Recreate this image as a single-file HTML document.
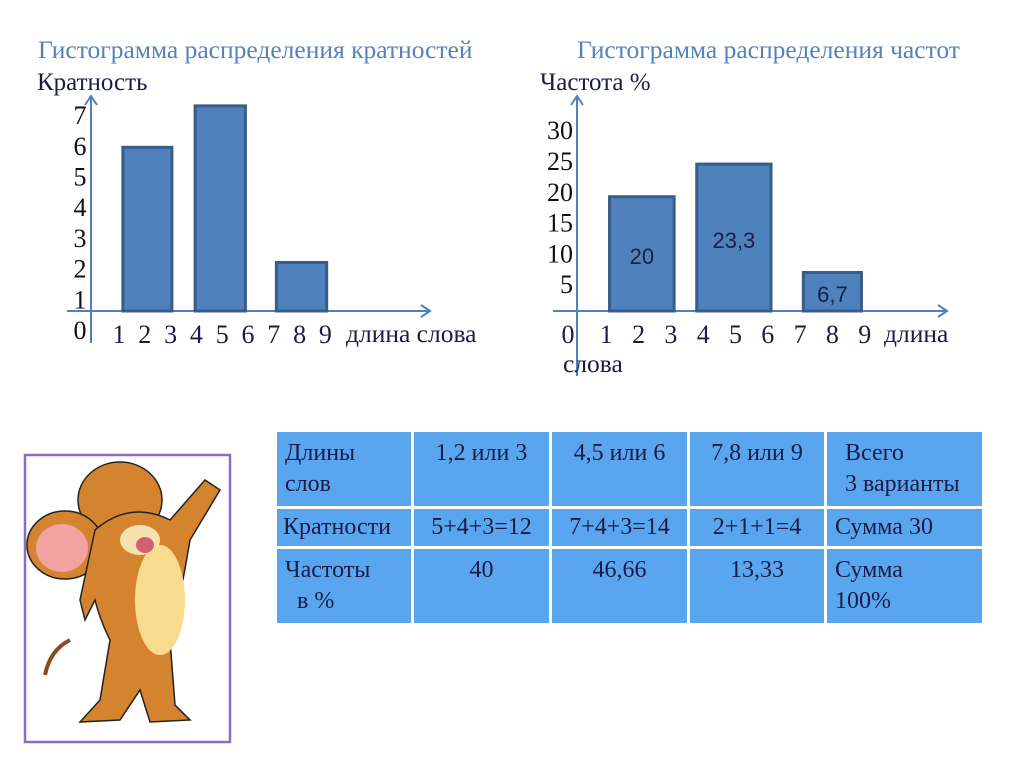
<!DOCTYPE html>
<html><head><meta charset="utf-8">
<style>
body{margin:0;width:1024px;height:767px;background:#fff;overflow:hidden;font-family:"Liberation Serif",serif;}
svg{position:absolute;left:0;top:0}
table{position:absolute;left:274px;top:429px;width:711px;table-layout:fixed;border-collapse:separate;border-spacing:3px;font-family:"Liberation Serif",serif;font-size:24px;color:#1b1b4a;}
td{background:#59a6ee;vertical-align:top;padding:6px 8px;line-height:31px;white-space:nowrap;overflow:visible;}
</style></head><body>
<svg width="1024" height="767" id="chart" font-family="Liberation Serif, serif">
<text x="38" y="58" font-size="25.5" fill="#5582bb">Гистограмма распределения кратностей</text>
<text x="37" y="90" font-size="25" fill="#1b1b4a">Кратность</text>
<text x="577" y="58" font-size="25.5" fill="#5582bb">Гистограмма распределения частот</text>
<text x="540" y="90" font-size="25" fill="#1b1b4a">Частота %</text>
<g id="left"></g>
<g id="right"></g>
<g>
<rect x="25" y="455" width="205" height="287" fill="#fff" stroke="#8a70b8" stroke-width="2.5"/>
<path d="M70 640 Q50 650 45 675" stroke="#8a4a1a" stroke-width="4" fill="none"/>
<ellipse cx="120" cy="500" rx="42" ry="38" fill="#d4842f" stroke="#222" stroke-width="1.5"/>
<ellipse cx="65" cy="545" rx="38" ry="34" fill="#d4842f" stroke="#222" stroke-width="1.5"/>
<ellipse cx="62" cy="548" rx="26" ry="24" fill="#f2a2a0"/>
<path d="M95 530 Q130 500 170 520 L205 480 L220 490 L190 540 Q180 600 170 640 L175 705 L190 720 L150 722 L140 690 L120 720 L80 722 L100 700 L110 640 Q100 620 95 600 L85 620 L80 600 Z" fill="#d4842f" stroke="#222" stroke-width="1.5"/>
<ellipse cx="160" cy="600" rx="25" ry="55" fill="#f8db8f"/>
<ellipse cx="140" cy="540" rx="20" ry="15" fill="#f5e0b0"/>
<ellipse cx="145" cy="545" rx="9" ry="8" fill="#d26070"/>
</g>
</svg>
<table>
<colgroup><col style="width:134px"><col style="width:135px"><col style="width:135px"><col style="width:134px"><col style="width:155px"></colgroup>
<tr style="height:64px"><td>Длины<br>слов</td><td style="text-align:center">1,2 или 3</td><td style="text-align:center">4,5 или 6</td><td style="text-align:center">7,8 или 9</td><td style="padding-left:18px">Всего<br>3 варианты</td></tr>
<tr style="height:34px"><td style="padding:3px 6px">Кратности</td><td style="text-align:center;padding:3px 0">5+4+3=12</td><td style="text-align:center;padding:3px 0">7+4+3=14</td><td style="text-align:center;padding:3px 0">2+1+1=4</td><td style="padding:3px 8px">Сумма 30</td></tr>
<tr style="height:63px"><td>Частоты<br>&nbsp;&nbsp;в %</td><td style="text-align:center">40</td><td style="text-align:center">46,66</td><td style="text-align:center">13,33</td><td>Сумма<br>100%</td></tr>
</table>
<script>
const leftTicks=[0,1,2,3,4,5,6,7];
const leftXTicks=[1,2,3,4,5,6,7,8,9];
const leftStarts=[1.15,3.95,7.1];
const leftEnds=[3.05,5.9,9.05];
const leftValues=[5.95,7.3,2.2];
const rightTicks=[5,10,15,20,25,30];
const rightXTicks=[0,1,2,3,4,5,6,7,8,9];
const rightStarts=[1.1,3.8,7.1];
const rightEnds=[3.1,6.1,8.9];
const rightValues=[19.2,24.5,6.9];
const rightLabels=["20","23,3","6,7"];
const NS="http://www.w3.org/2000/svg";
function mk(p,tag,a,txt){const e=document.createElementNS(NS,tag);for(const k in a)e.setAttribute(k,a[k]);if(txt!==undefined)e.textContent=txt;p.appendChild(e);return e;}
const AX="#4f81bd";
const L=document.getElementById('left');
const ly=v=>330-30.7*v, lx=v=>119+25.8*(v-1), LAXIS=311;
let e;
e=mk(L,'line',{x1:67,y1:LAXIS,x2:430,y2:LAXIS,stroke:AX,'stroke-width':2});

mk(L,'path',{d:`M421 ${LAXIS-6} L430 ${LAXIS} L421 ${LAXIS+6}`,stroke:AX,'stroke-width':2,fill:'none'});
e=mk(L,'line',{x1:91,y1:96,x2:91,y2:343,stroke:AX,'stroke-width':2});

mk(L,'path',{d:'M85 105 L91 96 L97 105',stroke:AX,'stroke-width':2,fill:'none'});
leftTicks.forEach(v=>{e=mk(L,'text',{x:80,y:ly(v)+9,'font-size':26,'text-anchor':'middle',fill:'#111'},String(v));
});
leftXTicks.forEach(v=>{e=mk(L,'text',{x:lx(v),y:343,'font-size':26,'text-anchor':'middle',fill:'#1b1b4a'},String(v));
});
e=mk(L,'text',{x:346,y:342,'font-size':25.5,fill:'#1b1b4a'},'длина слова');

leftValues.forEach((v,i)=>{const x0=lx(leftStarts[i]),x1=lx(leftEnds[i]),t=ly(v);
e=mk(L,'rect',{x:x0,y:t,width:x1-x0,height:LAXIS-t,fill:'#4f81bd',stroke:'#385d8a','stroke-width':3});
});
const R=document.getElementById('right');
const ry=v=>315-6.16*v, rx=v=>574+32.3*v, RAXIS=311;
e=mk(R,'line',{x1:553,y1:RAXIS,x2:947,y2:RAXIS,stroke:AX,'stroke-width':2});

mk(R,'path',{d:`M938 ${RAXIS-6} L947 ${RAXIS} L938 ${RAXIS+6}`,stroke:AX,'stroke-width':2,fill:'none'});
e=mk(R,'line',{x1:577,y1:96,x2:577,y2:376,stroke:AX,'stroke-width':2});

mk(R,'path',{d:'M571 105 L577 96 L583 105',stroke:AX,'stroke-width':2,fill:'none'});
rightTicks.forEach(v=>{e=mk(R,'text',{x:573,y:ry(v)+9,'font-size':26,'text-anchor':'end',fill:'#111'},String(v));
});
rightXTicks.forEach(v=>{e=mk(R,'text',{x:v===0?568:rx(v),y:343,'font-size':26,'text-anchor':'middle',fill:'#1b1b4a'},String(v));
});
e=mk(R,'text',{x:884,y:342,'font-size':25.5,fill:'#1b1b4a'},'длина');

e=mk(R,'text',{x:563,y:372,'font-size':25.5,fill:'#1b1b4a'},'слова');

rightValues.forEach((v,i)=>{const x0=rx(rightStarts[i]),x1=rx(rightEnds[i]),t=ry(v);
e=mk(R,'rect',{x:x0,y:t,width:x1-x0,height:RAXIS-t,fill:'#4f81bd',stroke:'#385d8a','stroke-width':3});

const ly2=i===0?264:(i===1?248:302);
e=mk(R,'text',{x:(x0+x1)/2,y:ly2,'font-size':22,'text-anchor':'middle',fill:'#16204a','font-family':'Liberation Sans, sans-serif'},rightLabels[i]);
});
</script>
</body></html>
